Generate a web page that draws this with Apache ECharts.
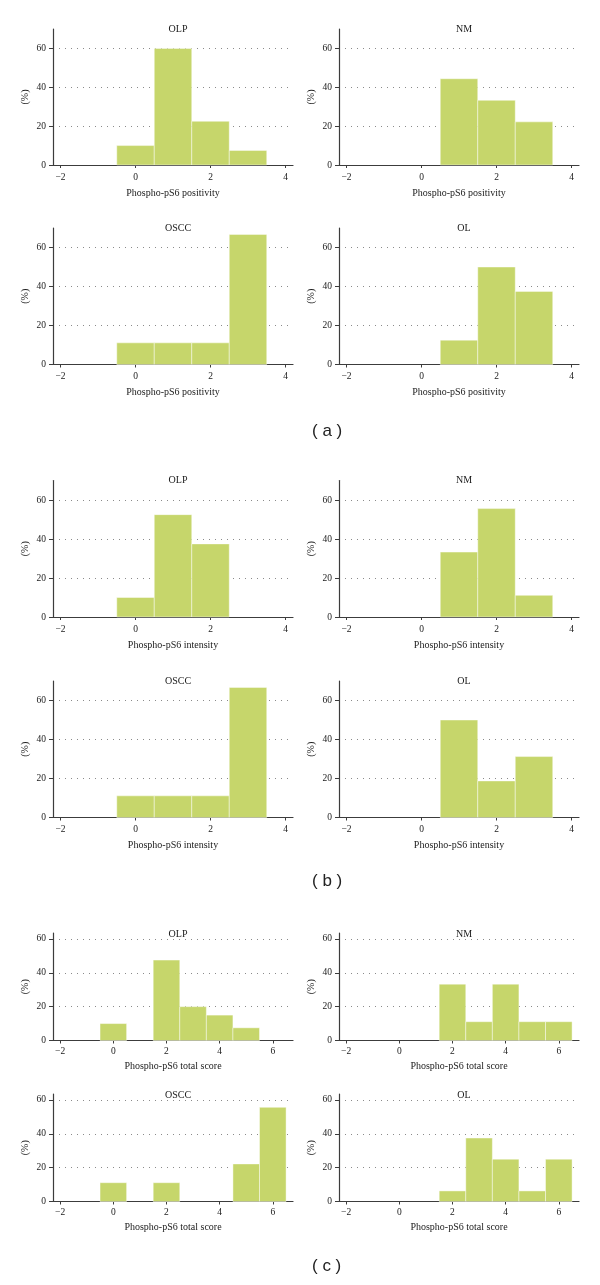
<!DOCTYPE html>
<html>
<head>
<meta charset="utf-8">
<script src="https://cdn.jsdelivr.net/npm/echarts@6/dist/echarts.min.js"></script>
<style>
html,body{margin:0;padding:0;background:#fff;}
#chart{width:600px;height:1285px;}
</style>
</head>
<body>
<div id="chart"></div>
<script>
// ---- data ----
const groups = ['OLP', 'NM', 'OSCC', 'OL'];
const scoreBins4 = [0, 1, 2, 3];
const scoreBins7 = [0, 1, 2, 3, 4, 5, 6];

const olpPositivity  = [10, 60, 22.5, 7.5];
const nmPositivity   = [0, 44.4, 33.3, 22.2];
const osccPositivity = [11.1, 11.1, 11.1, 66.7];
const olPositivity   = [0, 12.5, 50, 37.5];

const olpIntensity  = [10, 52.5, 37.5, 0];
const nmIntensity   = [0, 33.3, 55.6, 11.1];
const osccIntensity = [11.1, 11.1, 11.1, 66.7];
const olIntensity   = [0, 50, 18.75, 31.25];

const olpTotal  = [10, 0, 47.5, 20, 15, 7.5, 0];
const nmTotal   = [0, 0, 33.3, 11.1, 33.3, 11.1, 11.1];
const osccTotal = [11.1, 0, 11.1, 0, 0, 22.2, 55.6];
const olTotal   = [0, 0, 6.25, 37.5, 25, 6.25, 25];

const xTicksAB = [-2, 0, 2, 4];
const xTicksC  = [-2, 0, 2, 4, 6];
const yTicks   = [0, 20, 40, 60];

const xNames = ['Phospho-pS6 positivity', 'Phospho-pS6 intensity', 'Phospho-pS6 total score'];
const panelLabels = ['( a )', '( b )', '( c )'];

// ---- layout ----
const BAR = '#c6d66b';
const AXIS = '#3c3c3c';
const FONT = 'Liberation Serif';
const colLeft = [53, 339];
const gridW = 240;

const panels = [
  {name: groups[0], bins: scoreBins4, vals: olpPositivity,  top: 29,   h: 136,   col: 0, xi: 0},
  {name: groups[1], bins: scoreBins4, vals: nmPositivity,   top: 29,   h: 136,   col: 1, xi: 0},
  {name: groups[2], bins: scoreBins4, vals: osccPositivity, top: 228,  h: 136.5, col: 0, xi: 0},
  {name: groups[3], bins: scoreBins4, vals: olPositivity,   top: 228,  h: 136.5, col: 1, xi: 0},
  {name: groups[0], bins: scoreBins4, vals: olpIntensity,   top: 480.5,h: 136.5, col: 0, xi: 1},
  {name: groups[1], bins: scoreBins4, vals: nmIntensity,    top: 480.5,h: 136.5, col: 1, xi: 1},
  {name: groups[2], bins: scoreBins4, vals: osccIntensity,  top: 681,  h: 136.5, col: 0, xi: 1},
  {name: groups[3], bins: scoreBins4, vals: olIntensity,    top: 681,  h: 136.5, col: 1, xi: 1},
  {name: groups[0], bins: scoreBins7, vals: olpTotal,       top: 933,  h: 107.5, col: 0, xi: 2},
  {name: groups[1], bins: scoreBins7, vals: nmTotal,        top: 933,  h: 107.5, col: 1, xi: 2},
  {name: groups[2], bins: scoreBins7, vals: osccTotal,      top: 1094, h: 107.5, col: 0, xi: 2},
  {name: groups[3], bins: scoreBins7, vals: olTotal,        top: 1094, h: 107.5, col: 1, xi: 2}
];

const grids = [], xAxes = [], yAxes = [], series = [], titles = [];

panels.forEach((p, i) => {
  const isC = p.xi === 2;
  const left = colLeft[p.col];
  grids.push({left: left, top: p.top, width: gridW, height: p.h});
  titles.push({
    text: p.name,
    left: left + gridW / 2,
    top: p.top - (isC ? 9 : 10),
    textAlign: 'center',
    textStyle: {fontFamily: FONT, fontSize: 10, fontWeight: 'normal', color: '#1a1a1a'}
  });
  xAxes.push({
    type: 'value', gridIndex: i,
    min: isC ? -2.27 : -2.2, max: isC ? 6.76 : 4.2,
    name: xNames[p.xi], nameLocation: 'middle', nameGap: isC ? 21 : 23,
    nameTextStyle: {fontFamily: FONT, fontSize: 10, color: '#1a1a1a'},
    axisLine: {show: true, onZero: false, lineStyle: {color: AXIS, width: 1.2}},
    axisTick: {show: true, length: 3, customValues: isC ? xTicksC : xTicksAB, lineStyle: {color: AXIS}},
    axisLabel: {customValues: isC ? xTicksC : xTicksAB, margin: isC ? 6 : 7,
      fontFamily: FONT, fontSize: 9.5, color: '#1a1a1a',
      formatter: v => (v < 0 ? '\u2212' + Math.abs(v) : String(v))},
    splitLine: {show: false}
  });
  yAxes.push({
    type: 'value', gridIndex: i,
    min: 0, max: isC ? 63.5 : 70,
    name: '(%)', nameLocation: 'middle', nameGap: 23,
    nameTextStyle: {fontFamily: FONT, fontSize: 10, color: '#1a1a1a'},
    axisLine: {show: true, onZero: false, lineStyle: {color: AXIS, width: 1.2}},
    axisTick: {show: true, length: 4, customValues: yTicks, lineStyle: {color: AXIS}},
    axisLabel: {customValues: yTicks, margin: 7, fontFamily: FONT, fontSize: 9.5, color: '#1a1a1a'},
    splitLine: {show: true, lineStyle: {color: '#8a8a8a', type: [1, 5], width: 1}}
  });
  const data = [];
  p.bins.forEach((b, k) => { if (p.vals[k] > 0) data.push([b, p.vals[k]]); });
  series.push({
    type: 'custom', xAxisIndex: i, yAxisIndex: i, coordinateSystem: 'cartesian2d',
    data: data,
    renderItem: function (params, api) {
      const x = api.value(0), y = api.value(1);
      const p0 = api.coord([x - 0.5, y]);
      const p1 = api.coord([x + 0.5, 0]);
      return {
        type: 'rect',
        shape: {x: p0[0], y: p0[1], width: p1[0] - p0[0], height: p1[1] - p0[1]},
        style: {fill: BAR, stroke: 'rgba(255,255,255,0.55)', lineWidth: 0.8}
      };
    },
    z: 1
  });
});

const labelYs = [433, 883, 1268];
const graphics = panelLabels.map((t, k) => ({
  type: 'text', left: 312, top: labelYs[k] - 10,
  style: {text: t, font: '17px "Liberation Sans", Arial, sans-serif', fill: '#222'}
}));

const chart = echarts.init(document.getElementById('chart'), null, {renderer: 'canvas'});
chart.setOption({
  animation: false,
  backgroundColor: '#fff',
  title: titles,
  grid: grids,
  xAxis: xAxes,
  yAxis: yAxes,
  series: series,
  graphic: graphics
});
</script>
</body>
</html>
